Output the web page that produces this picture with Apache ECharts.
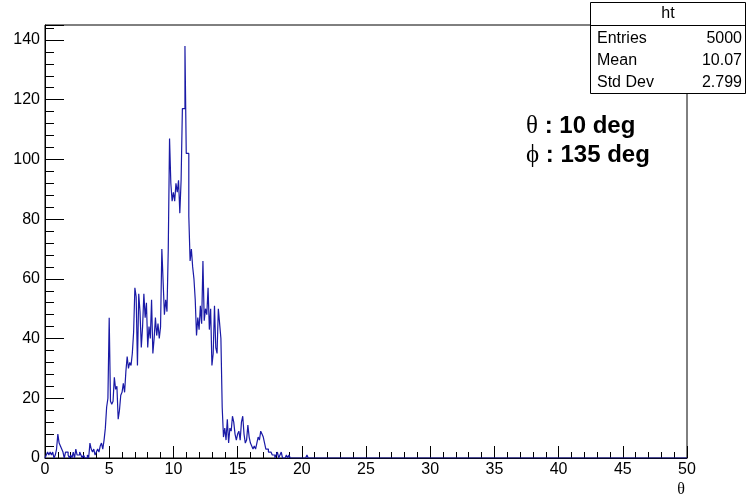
<!DOCTYPE html>
<html>
<head>
<meta charset="utf-8">
<script src="https://cdn.jsdelivr.net/npm/echarts@6/dist/echarts.min.js"></script>
<style>
  html, body { margin: 0; padding: 0; background: #fff; }
  #main { width: 747px; height: 499px; }
</style>
</head>
<body>
<div id="main"></div>
<script>
// histogram "ht": 500 bins of 0.1 on [0,50], entries only in the first 21 units
var binWidth = 0.1;
var counts = [
  0, 1, 2, 1, 2, 1, 2, 0, 1, 3,
  8, 5, 4, 3, 2, 0, 2, 2, 1, 0,
  1, 0, 2, 0, 3, 1, 1, 2, 1, 0,
  1, 0, 0, 1, 0, 5, 3, 2, 3, 1,
  2, 3, 2, 4, 5, 3, 6, 10, 17, 20,
  47, 19, 18, 19, 27, 23, 24, 13, 16, 21,
  22, 25, 22, 29, 34, 30, 32, 31, 35, 42,
  57, 54, 31, 55, 49, 37, 44, 55, 47, 52,
  37, 44, 40, 53, 35, 40, 47, 41, 45, 40,
  44, 70, 59, 48, 53, 49, 70, 107, 92, 86,
  89, 86, 92, 89, 93, 82, 93, 117, 117, 138,
  102, 102, 81, 66, 70, 64, 60, 53, 41, 47,
  43, 51, 45, 66, 46, 50, 48, 57, 43, 50,
  31, 35, 51, 37, 35, 50, 45, 40, 17, 7,
  10, 6, 13, 5, 10, 9, 14, 12, 8, 6,
  8, 9, 6, 12, 14, 8, 5, 6, 11, 7,
  5, 4, 3, 4, 3, 5, 7, 6, 9, 8,
  7, 5, 3, 3, 2, 2, 2, 1, 1, 0,
  1, 2, 0, 1, 2, 0, 0, 0, 1, 0,
  1, 0, 0, 0, 0, 0, 0, 0, 0, 0,
  0, 0, 0, 0, 1, 0, 0, 0, 0, 0
];
var xRange = [0, 50];
var yRange = [0, 145];
var statTitle = 'ht';
var statNames = ['Entries', 'Mean', 'Std Dev'];
var statValues = ['5000', '10.07', '2.799'];
var angleLabels = [['\u03b8', ' : 10 deg'], ['\u03d5', ' : 135 deg']];
var xTitle = '\u03b8';

// outline points at bin low edges, drawn as steps
var points = [[0, 0]];
counts.forEach(function (c, i) { points.push([+(i * binWidth).toFixed(1), c]); });
points.push([+(counts.length * binWidth).toFixed(1), 0]);
points.push([xRange[1], 0]);

var font = 'Liberation Sans';
var black = '#000';

var graphics = [
  { type: 'rect', z: 100, shape: { x: 590.5, y: 2.5, width: 155, height: 91 },
    style: { fill: '#fff', stroke: black, lineWidth: 1 } },
  { type: 'line', z: 101, shape: { x1: 590.5, y1: 25.5, x2: 745.5, y2: 25.5 },
    style: { stroke: black, lineWidth: 1 } },
  { type: 'text', z: 101, x: 668, y: 14,
    style: { text: statTitle, font: '16px ' + font, fill: black, align: 'center', verticalAlign: 'middle' } }
];
statNames.forEach(function (n, i) {
  var y = 39 + i * 22;
  graphics.push({ type: 'text', z: 101, x: 597, y: y,
    style: { text: n, font: '16px ' + font, fill: black, align: 'left', verticalAlign: 'middle' } });
  graphics.push({ type: 'text', z: 101, x: 742, y: y,
    style: { text: statValues[i], font: '16px ' + font, fill: black, align: 'right', verticalAlign: 'middle' } });
});
angleLabels.forEach(function (a, i) {
  graphics.push({ type: 'text', z: 101, x: 526, y: 126 + i * 29,
    style: {
      text: '{g|' + a[0] + '}{t|' + a[1] + '}',
      verticalAlign: 'middle',
      rich: {
        g: { fontFamily: 'Liberation Serif', fontSize: 25, fill: black },
        t: { fontFamily: font, fontWeight: 'bold', fontSize: 24, fill: black }
      }
    } });
});
graphics.push({ type: 'text', z: 101, x: 681, y: 490,
  style: { text: xTitle, font: '16px Liberation Serif', fill: black, align: 'center', verticalAlign: 'middle' } });

var chart = echarts.init(document.getElementById('main'));
chart.setOption({
  animation: false,
  backgroundColor: '#fff',
  grid: { left: 45, right: 60, top: 25, bottom: 41, show: true, borderColor: black, borderWidth: 1 },
  xAxis: [{
    type: 'value', min: xRange[0], max: xRange[1], interval: 5, position: 'bottom',
    axisLine: { show: true, onZero: false, lineStyle: { color: black, width: 1 } },
    axisTick: { show: true, inside: true, length: 12, lineStyle: { color: black } },
    minorTick: { show: true, splitNumber: 5, length: 6, lineStyle: { color: black } },
    axisLabel: { color: black, fontSize: 16, fontFamily: font, margin: 4 },
    splitLine: { show: false }
  }],
  yAxis: [{
    type: 'value', min: yRange[0], max: yRange[1], interval: 20, position: 'left',
    axisLine: { show: true, onZero: false, lineStyle: { color: black, width: 1 } },
    axisTick: { show: true, inside: true, length: 19, lineStyle: { color: black } },
    axisLabel: { color: black, fontSize: 16, fontFamily: font, margin: 5,
      formatter: function (v) { return v % 20 === 0 ? String(v) : ''; } },
    splitLine: { show: false }
  }, {
    // minor ticks every 4
    type: 'value', min: yRange[0], max: yRange[1], interval: 4, position: 'left',
    axisLine: { show: false },
    axisTick: { show: true, inside: true, length: 9, lineStyle: { color: black } },
    axisLabel: { show: false },
    splitLine: { show: false }
  }],
  series: [{
    type: 'line', step: 'end', data: points, xAxisIndex: 0, yAxisIndex: 0,
    symbol: 'none', silent: true,
    lineStyle: { color: '#1a1aa6', width: 1.2 }
  }],
  graphic: graphics
});
</script>
</body>
</html>
